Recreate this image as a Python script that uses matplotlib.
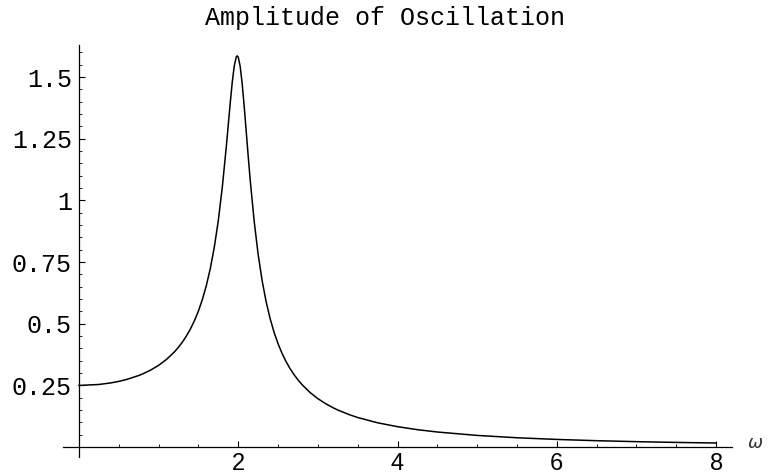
import matplotlib
matplotlib.use("Agg")
import matplotlib.pyplot as plt
from matplotlib.ticker import MultipleLocator, FixedLocator

# Data (omega, amplitude)
omega = [0.0, 0.25, 0.4, 0.5, 0.6, 0.75, 0.8, 0.9, 1.0, 1.1, 1.2, 1.25, 1.3,
         1.35, 1.4, 1.45, 1.5, 1.55, 1.6, 1.65, 1.7, 1.75, 1.8, 1.85, 1.875,
         1.9, 1.925, 1.95, 1.975, 1.987, 2.0, 2.025, 2.05, 2.075, 2.1, 2.125,
         2.15, 2.2, 2.25, 2.3, 2.35, 2.4, 2.45, 2.5, 2.55, 2.6, 2.65, 2.7,
         2.75, 2.8, 2.9, 3.0, 3.1, 3.2, 3.25, 3.4, 3.5, 3.75, 4.0, 4.25, 4.5,
         5.0, 5.5, 6.0, 6.5, 7.0, 7.5, 8.0]
amplitude = [0.2500, 0.2539, 0.2603, 0.2664, 0.2744, 0.2902, 0.2968, 0.3122,
             0.3315, 0.3557, 0.3864, 0.4050, 0.4262, 0.4507, 0.4790, 0.5123,
             0.5515, 0.5984, 0.6552, 0.7247, 0.8108, 0.9185, 1.0532, 1.2164,
             1.3061, 1.3960, 1.4789, 1.5443, 1.5813, 1.5860, 1.5811, 1.5427,
             1.4724, 1.3814, 1.2813, 1.1806, 1.0848, 0.9169, 0.7820, 0.6753,
             0.5902, 0.5217, 0.4657, 0.4193, 0.3803, 0.3472, 0.3188, 0.2942,
             0.2727, 0.2538, 0.2220, 0.1965, 0.1756, 0.1582, 0.1505, 0.1310,
             0.1201, 0.0987, 0.0829, 0.0708, 0.0613, 0.0475, 0.0380, 0.0312,
             0.0261, 0.0222, 0.0191, 0.0167]

title = "Amplitude of Oscillation"
x_ticks = [2, 4, 6, 8]
y_ticks = [0.25, 0.5, 0.75, 1.0, 1.25, 1.5]
y_tick_labels = ["0.25", "0.5", "0.75", "1", "1.25", "1.5"]
x_label = "\u03c9"

fig = plt.figure(figsize=(7.71, 4.74), dpi=100)
ax = fig.add_axes([63 / 771, 17 / 474, 669 / 771, 412 / 474])

ax.plot(omega, amplitude, color="black", linewidth=1.1, solid_joinstyle="round")

ax.set_xlim(-0.2, 8.2)
ax.set_ylim(-0.04, 1.63)

for s in ["top", "right"]:
    ax.spines[s].set_visible(False)
ax.spines["left"].set_position(("data", 0))
ax.spines["bottom"].set_position(("data", 0))
ax.spines["left"].set_linewidth(0.9)
ax.spines["bottom"].set_linewidth(0.9)

ax.xaxis.set_major_locator(FixedLocator(x_ticks))
ax.xaxis.set_minor_locator(MultipleLocator(0.5))
ax.yaxis.set_major_locator(FixedLocator(y_ticks))
ax.set_yticklabels(y_tick_labels)
ax.yaxis.set_minor_locator(FixedLocator([i * 0.05 for i in range(1, 33)]))

ax.tick_params(axis="both", which="major", direction="in", length=4, width=0.8)
ax.tick_params(axis="both", which="minor", direction="in", length=2.5, width=0.6)
ax.tick_params(axis="y", which="major", pad=5)
ax.tick_params(axis="x", which="major", pad=4)

for lab in ax.get_yticklabels():
    lab.set_fontfamily("Liberation Mono")
    lab.set_fontsize(18)
for lab in ax.get_xticklabels():
    lab.set_fontfamily("Liberation Sans")
    lab.set_fontsize(17)

fig.text(385 / 771, 1 - 18 / 474, title, family="Liberation Mono", fontsize=18,
         ha="center", va="center")
fig.text(755 / 771, 1 - 443 / 474, x_label, family="DejaVu Sans", style="italic",
         fontsize=13, ha="center", va="center", color="#333333")

fig.savefig("out.png", dpi=100)
